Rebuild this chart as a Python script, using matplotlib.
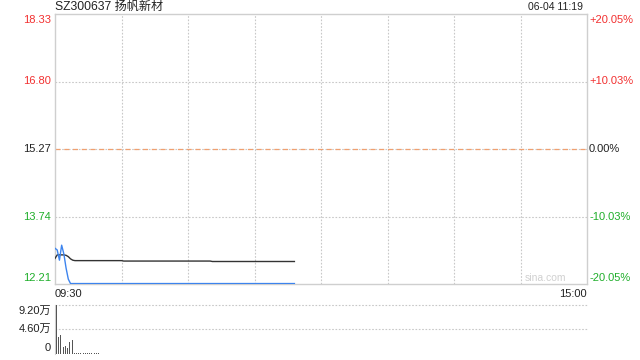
import matplotlib
matplotlib.use("Agg")
import matplotlib.pyplot as plt

plt.rcParams['font.family'] = ['Liberation Sans', 'Noto Sans CJK SC', 'DejaVu Sans']

title = "SZ300637 扬帆新材"
stamp = "06-04 11:19"
prev_close = 15.27
price_ticks = [18.33, 16.80, 15.27, 13.74, 12.21]
price_labels = ["18.33", "16.80", "15.27", "13.74", "12.21"]
pct_labels = ["+20.05%", "+10.03%", "0.00%", "-10.03%", "-20.05%"]
time_labels = ["09:30", "15:00"]
vol_ticks = [9.20, 4.60, 0]
vol_labels = ["9.20万", "4.60万", "0"]

price = [13.02, 12.98, 12.75, 13.09, 12.89, 12.57, 12.32, 12.22] + [12.22] * 101
avg = ([12.79, 12.87, 12.87, 12.87, 12.87, 12.86, 12.83, 12.78, 12.75]
       + [12.74] * 22 + [12.73] * 40 + [12.72] * 38)
volume = ([9.20, 3.14, 3.46, 1.19, 1.38, 1.06, 2.20, 2.50, 0.10,
           0.06, 0.08, 0.04, 0.06, 0.03, 0.05, 0.03, 0.02, 0.03, 0.02, 0.02]
          + [0.01] * 20 + [0.0] * 69)

RED = "#f23030"
GREEN = "#1fae2a"
GRID = "#c8c8c8"
W, H = 640, 360

fig = plt.figure(figsize=(6.4, 3.6), dpi=100)
L, R = 55 / W, 587 / W
ax = fig.add_axes([L, (H - 284) / H, R - L, (284 - 14) / H])
axv = fig.add_axes([L, (H - 353.6) / H, R - L, (353.6 - 305) / H])

x = list(range(len(price)))
ax.set_xlim(0, 240)
ax.set_ylim(price_ticks[-1], price_ticks[0])
for xv in range(30, 240, 30):
    ax.axvline(xv, color=GRID, lw=0.8, ls=(0, (1.5, 1.5)), zorder=1)
for yv in (price_ticks[1], price_ticks[3]):
    ax.axhline(yv, color=GRID, lw=0.8, ls=(0, (1.5, 1.5)), zorder=1)
ax.axhline(prev_close, color=GRID, lw=0.8, ls=(0, (1.5, 1.5)), zorder=1)
ax.axhline(prev_close, color="#f0a070", lw=0.9, ls=(0, (4, 3)), zorder=2)

ax.plot(x, avg, color="#333333", lw=1.0, zorder=3)
ax.plot(x, price, color="#3d84ee", lw=1.0, zorder=4)

for s in ax.spines.values():
    s.set_color("#cfcfcf")
    s.set_linewidth(1.0)
ax.set_xticks([])
ax.set_yticks([])

colors = [RED, RED, "#222222", GREEN, GREEN]
offsets = [6, 0, 0, 0, -5.5]
for yv, lab, pl, c, off in zip(price_ticks, price_labels, pct_labels, colors, offsets):
    ax.annotate(lab, xy=(0, yv), xycoords=("axes fraction", "data"),
                xytext=(-2.8, -off * 0.75), textcoords="offset points",
                ha="right", va="center", fontsize=8, color=c)
    ax.annotate(pl, xy=(1, yv), xycoords=("axes fraction", "data"),
                xytext=(1.5, -off * 0.75), textcoords="offset points",
                ha="left", va="center", fontsize=8, color=c)

fig.text(L, (H - 7) / H, title, ha="left", va="center", fontsize=8.7, color="#222222")
fig.text(583 / W, (H - 7) / H, stamp, ha="right", va="center", fontsize=7.5, color="#222222")
fig.text(L, (H - 294) / H, time_labels[0], ha="left", va="center", fontsize=8, color="#222222")
fig.text(R, (H - 294) / H, time_labels[1], ha="right", va="center", fontsize=8, color="#222222")
fig.text(545 / W, (H - 278) / H, "sina.com", ha="center", va="center", fontsize=7.5, color="#d0d0d0")

axv.set_xlim(0, 240)
axv.set_ylim(0, vol_ticks[0])
axv.bar([v + 0.45 for v in x], volume, width=0.45, color="#555555", align="edge", zorder=3)
for yv in vol_ticks[:2]:
    axv.axhline(yv, color=GRID, lw=0.8, ls=(0, (1.5, 1.5)), zorder=1, clip_on=False)
for name, s in axv.spines.items():
    s.set_visible(name == "left")
axv.spines["left"].set_color("#cfcfcf")
axv.spines["left"].set_zorder(1)
axv.set_xticks([])
axv.set_yticks([])
voffs = [-6, 0, 5]
for yv, lab, off in zip(vol_ticks, vol_labels, voffs):
    axv.annotate(lab, xy=(0, yv), xycoords=("axes fraction", "data"),
                 xytext=(-2.8, off * 0.75), textcoords="offset points",
                 ha="right", va="center", fontsize=8, color="#222222")

fig.savefig("out.png", dpi=100)
